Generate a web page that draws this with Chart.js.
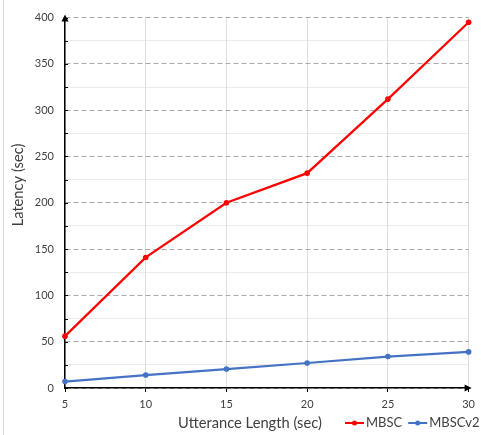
<!DOCTYPE html>
<html><head><meta charset="utf-8">
<script src="https://cdn.jsdelivr.net/npm/chart.js@4"></script>
<style>html,body{margin:0;padding:0;background:#fff}#wrap{width:481px;height:435px;position:relative}</style>
</head><body><div id="wrap"><canvas id="c"></canvas></div>
<script>
const utteranceLengths = [5, 10, 15, 20, 25, 30];
const mbsc = [56, 141, 200, 232, 312, 395];
const mbscv2 = [7, 14, 20.5, 27, 34, 39];
const seriesNames = ['MBSC', 'MBSCv2'];
const xTitle = 'Utterance Length (sec)';
const yTitle = 'Latency (sec)';

const FONT = 'Lato, "Open Sans", sans-serif';
const TEXT = '#404040';

const extras = {
  id: 'extras',
  beforeDraw(chart) {
    const ctx = chart.ctx;
    ctx.save();
    ctx.strokeStyle = '#d9d9d9';
    ctx.lineWidth = 1;
    ctx.beginPath(); ctx.moveTo(3.5, 0); ctx.lineTo(3.5, 435); ctx.stroke();
    ctx.restore();
  },
  afterDatasetsDraw(chart) {
    const ctx = chart.ctx, a = chart.chartArea, ys = chart.scales.y;
    ctx.save();
    // inward tick marks on y axis
    ctx.strokeStyle = '#000'; ctx.lineWidth = 1;
    ys.ticks.forEach(t => {
      const py = Math.round(ys.getPixelForValue(t.value)) + 0.5;
      ctx.beginPath(); ctx.moveTo(a.left, py); ctx.lineTo(a.left + 3, py); ctx.stroke();
    });
    ctx.fillStyle = '#000';
    // y arrow
    ctx.beginPath();
    ctx.moveTo(a.left, a.top - 3);
    ctx.lineTo(a.left - 3.5, a.top + 4);
    ctx.lineTo(a.left + 3.5, a.top + 4);
    ctx.closePath(); ctx.fill();
    // x arrow
    ctx.beginPath();
    ctx.moveTo(a.right + 3, a.bottom);
    ctx.lineTo(a.right - 4, a.bottom - 3.5);
    ctx.lineTo(a.right - 4, a.bottom + 3.5);
    ctx.closePath(); ctx.fill();
    // axis titles
    ctx.fillStyle = TEXT;
    ctx.font = '14.7px ' + FONT;
    ctx.textAlign = 'center'; ctx.textBaseline = 'middle';
    ctx.fillText(xTitle, 250, 423);
    ctx.save();
    ctx.translate(18, 185); ctx.rotate(-Math.PI / 2);
    ctx.fillText(yTitle, 0, 0);
    ctx.restore();
    // legend
    ctx.font = '13px ' + FONT;
    ctx.textAlign = 'left';
    let x = 345; const y = 423;
    chart.data.datasets.forEach(ds => {
      ctx.strokeStyle = ds.borderColor; ctx.lineWidth = 2;
      ctx.beginPath(); ctx.moveTo(x, y); ctx.lineTo(x + 19, y); ctx.stroke();
      ctx.fillStyle = ds.borderColor;
      ctx.beginPath(); ctx.arc(x + 9.5, y, 2.5, 0, Math.PI * 2); ctx.fill();
      ctx.fillStyle = TEXT;
      ctx.fillText(ds.label, x + 21, y);
      x += 21 + ctx.measureText(ds.label).width + 6;
    });
    ctx.restore();
  }
};

const toPts = arr => utteranceLengths.map((v, i) => ({x: v, y: arr[i]}));
const isMinor = c => c.index % 2 === 1;

new Chart(document.getElementById('c'), {
  type: 'line',
  data: {
    datasets: [
      {label: seriesNames[0], data: toPts(mbsc), borderColor: '#ff0000', backgroundColor: '#ff0000',
       borderWidth: 2.25, pointRadius: 2.8, pointBorderWidth: 0, clip: false},
      {label: seriesNames[1], data: toPts(mbscv2), borderColor: '#4472c4', backgroundColor: '#4472c4',
       borderWidth: 2.25, pointRadius: 2.8, pointBorderWidth: 0, clip: false}
    ]
  },
  options: {
    responsive: true,
    maintainAspectRatio: false,
    animation: false,
    layout: {padding: {left: 0, right: 11, top: 15, bottom: 0}},
    plugins: {legend: {display: false}, tooltip: {enabled: false}},
    scales: {
      x: {
        type: 'linear', min: 5, max: 30,
        afterFit: s => { s.height = 47; },
        ticks: {stepSize: 5, color: TEXT, font: {family: FONT, size: 11}, padding: 6},
        grid: {color: '#dedede', lineWidth: 1, drawTicks: true, tickLength: 4, tickColor: '#000', tickWidth: 1},
        border: {color: '#000', width: 1.5},
        title: {display: false}
      },
      y: {
        min: 0, max: 400,
        afterFit: s => { s.width = 65; },
        ticks: {stepSize: 25, color: TEXT, font: {family: FONT, size: 11}, padding: 11,
                callback: v => (v % 50 === 0 ? String(v) : '')},
        grid: {drawTicks: false,
               color: c => (isMinor(c) ? '#d6d6d6' : '#aaaaaa'),
               lineWidth: 1},
        border: {color: '#000', width: 1.5,
                 dash: c => (c.tick === undefined ? [] : (isMinor(c) ? [1, 1] : [5, 3]))},
        title: {display: false}
      }
    }
  },
  plugins: [extras]
});
</script>
</body></html>
